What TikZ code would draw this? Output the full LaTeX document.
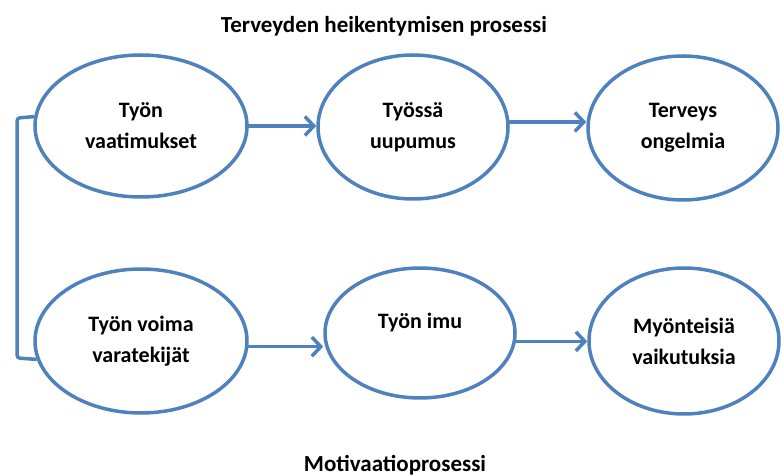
\documentclass[tikz,border=0pt]{standalone}
\usepackage{fontspec}
\setmainfont{Carlito}
\usetikzlibrary{arrows.meta,shapes.geometric}
\definecolor{officeblue}{HTML}{4F81BD}

\begin{document}
\begin{tikzpicture}[
  x=1bp, y=-1bp,
  >={Straight Barb[length=9bp,width=19bp]},
  font=\fontsize{22bp}{31bp}\selectfont\bfseries,
  phase/.style={ellipse, draw=officeblue, line width=3.5bp, align=center, inner sep=0pt},
  wide/.style={phase, minimum width=212bp, minimum height=142bp},
  narrow/.style={phase, minimum width=190bp, minimum height=144bp},
  flow/.style={->, line width=3.5bp, officeblue, line join=round, line cap=round},
  link/.style={line width=3.5bp, officeblue, rounded corners=3bp},
  title/.style={anchor=base, font=\fontsize{23bp}{28bp}\selectfont\bfseries},
]
\useasboundingbox (0,0) rectangle (781,476);

% Health impairment process (top row)
\node[wide] (dem) at (141,126) {Työn\\vaatimukset};
\node[narrow] (burn) at (413,127) {Työssä\\uupumus};
\node[narrow] (ill) at (683,128) {Terveys\\ongelmia};

% Motivational process (bottom row)
\node[wide, minimum height=144bp] (res) at (141,341) {Työn voima\\varatekijät};
\node[narrow, minimum height=130bp, text depth=24bp] (eng) at (420,333) {Työn imu};
\node[narrow, minimum height=146bp] (pos) at (684,341) {Myönteisiä\\vaikutuksia};

% Arrows between the phases
\draw[flow] (dem.east) -- (dem.east -| burn.west);
\draw[flow] (burn.3) -- (burn.3 -| ill.west);
\draw[flow] (res.-3) -- (res.-3 -| eng.west);
\draw[flow] (eng.-5) -- (eng.-5 -| pos.west);

% Bracket joining demands and resources
\coordinate (bt) at (17,118);
\coordinate (bb) at (17,358);
\draw[link] (dem.175) -- (bt) -- (bb) -- (res.190);

% Process titles
\node[title] (top) at (384,33) {Terveyden heikentymisen prosessi};
\node[title] (bot) at (395,471) {Motivaatioprosessi};

\end{tikzpicture}
\end{document}
